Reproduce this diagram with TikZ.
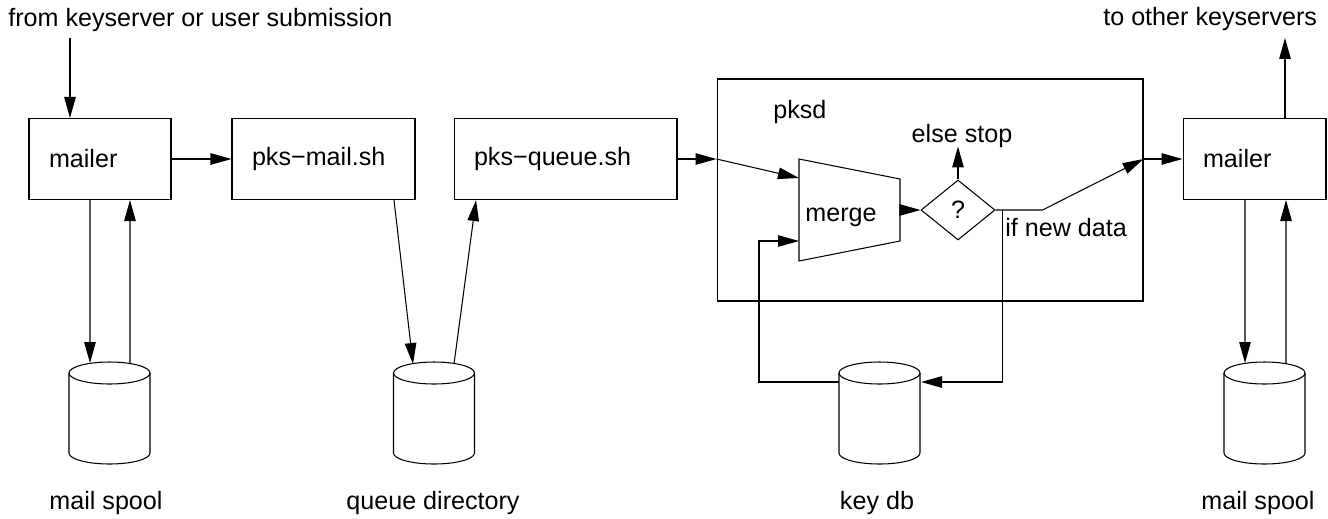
\documentclass[tikz,border=0pt]{standalone}
\usepackage{fontspec}
\setmainfont{Liberation Sans}
\usetikzlibrary{arrows.meta,positioning,shapes.geometric,calc}

\tikzset{
  flow/.style={line width=0.6pt},
  arr/.style={flow,-{Triangle[length=0.42cm,width=0.23cm]}},
  procbox/.style={draw,line width=0.6pt,minimum height=1.62cm,inner xsep=0.4cm,align=left},
  lbl/.style={inner sep=0pt},
}

% disk drum: name, x, y of top rim centre
\newcommand{\dbdrum}[3]{%
  \draw[flow] (#2,#3) ellipse[x radius=0.81cm,y radius=0.22cm];
  \draw[flow] (#2-40.5,#3) -- (#2-40.5,#3+80)
    arc[start angle=180,end angle=360,x radius=0.81cm,y radius=0.22cm]
    -- (#2+40.5,#3);
  \coordinate (#1) at (#2,#3);}

\begin{document}
\begin{tikzpicture}[x=0.02cm,y=-0.02cm,font=\fontsize{14.3}{17}\selectfont]
  \useasboundingbox (0,0) rectangle (1328,518);

  % ---- Process boxes -----------------------------------------
  \node[procbox,text width=2.04cm] (mailA) at (100,159)   {mailer};
  \node[procbox,text width=2.86cm] (pksM)  at (323.5,159) {pks−mail.sh};
  \node[procbox,text width=3.66cm] (pksQ)  at (565.5,159) {pks−queue.sh};
  \node[procbox,text width=2.06cm] (mailB) at (1254.5,159) {mailer};

  % ---- pksd daemon -------------------------------------------
  \node[draw,line width=0.6pt,minimum width=8.52cm,minimum height=4.44cm,
    inner sep=0pt] (pksd) at (930,190) {};
  \node[lbl,anchor=base west] (pksdlbl) at (773,118) {pksd};

  % merge funnel
  \draw[flow] (799,159) -- (900,179) -- (900,241) -- (799,261) -- cycle;
  \node[lbl,anchor=base west] (merge) at (805,221) {merge};
  \coordinate (mg-in1) at (799,178);
  \coordinate (mg-in2) at (799,241);
  \coordinate (mg-out) at (900,210);

  % decision
  \node[draw,diamond,line width=0.6pt,minimum width=1.48cm,
    minimum height=1.2cm,inner sep=0pt] (chk) at (958,210) {?};
  \node[lbl,anchor=base] (stop) at (962,142) {else stop};
  \node[lbl,anchor=base west] (newd) at (1005,236) {if new data};

  % ---- Storage -----------------------------------------------
  \dbdrum{spA}{109.5}{373}
  \dbdrum{qdir}{434}{373}
  \dbdrum{kdb}{879.5}{373}
  \dbdrum{spB}{1264.5}{373}

  \coordinate (spA-in)  at (90,363);
  \coordinate (spA-out) at (130,363);
  \coordinate (qd-in)   at (413,364);
  \coordinate (qd-out)  at (454,364);
  \coordinate (kd-in)   at (921,382);
  \coordinate (kd-out)  at (839,382);
  \coordinate (spB-in)  at (1245,363);
  \coordinate (spB-out) at (1286,363);

  \node[lbl,anchor=base] (spAlbl) at (106,509)  {mail spool};
  \node[lbl,anchor=base] (qdlbl)  at (433,509)  {queue directory};
  \node[lbl,anchor=base] (kdlbl)  at (877,509)  {key db};
  \node[lbl,anchor=base] (spBlbl) at (1258,509) {mail spool};

  % ---- In / out ----------------------------------------------
  \node[lbl,anchor=base west] (src) at (8,26) {from keyserver or user submission};
  \node[lbl,anchor=base west] (dst) at (1103,25) {to other keyservers};
  \coordinate (inA) at (70,38);

  % ---- Connectors --------------------------------------------
  \draw[arr] (inA) -- (inA |- mailA.north);
  \draw[arr] (mailA.east) -- (pksM.west);
  \draw[arr] ([xshift=-0.2cm]mailA.south) -- (spA-in);
  \draw[arr] (spA-out) -- ([xshift=0.6cm]mailA.south);

  \draw[arr] ([xshift=1.41cm]pksM.south) -- (qd-in);
  \draw[arr] (qd-out) -- ([xshift=-1.79cm]pksQ.south);

  \draw[arr] (pksQ.east) -- (pksQ.east -| pksd.west) coordinate (pin);
  \draw[arr] (pin) -- (mg-in1);
  \draw[arr] (mg-out) -- (chk.west);
  \draw[arr] (chk.north) -- ++(0,-33);
  \draw[arr] (chk.east) -- ++(47,0) -- (pksd.east |- mailB.west) coordinate (pout);
  \draw[arr] (pout) -- (mailB.west);

  \draw[arr] ([xshift=0.14cm]chk.east) |- (kd-in);
  \draw[arr] (kd-out) -- ++(-80,0) |- (mg-in2);

  \draw[arr] ([xshift=0.61cm]mailB.north) -- ++(0,-80);
  \draw[arr] ([xshift=-0.19cm]mailB.south) -- (spB-in);
  \draw[arr] (spB-out) -- ([xshift=0.63cm]mailB.south);

\end{tikzpicture}
\end{document}
